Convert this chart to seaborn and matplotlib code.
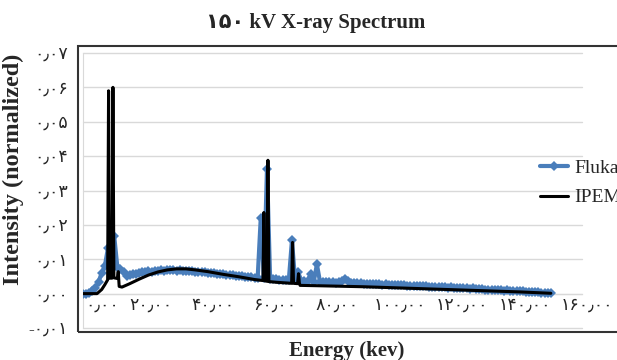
import matplotlib
matplotlib.use("Agg")
import matplotlib.pyplot as plt
import seaborn as sns
import numpy as np
from matplotlib.patches import Rectangle

# ---------------- data ----------------
fluka_energy = list(range(0, 151))
fluka_intensity = [
    0.0000, 0.0000, 0.0002, 0.0007, 0.0017, 0.0035, 0.0060, 0.0080, 0.0132, 0.0082,   # 0-9
    0.0168, 0.0078, 0.0072, 0.0064, 0.0052, 0.0054, 0.0056, 0.0058, 0.0059, 0.0062,   # 10-19
    0.0062, 0.0065, 0.0064, 0.0066, 0.0066, 0.0068, 0.0067, 0.0068, 0.0068, 0.0069,   # 20-29
    0.0067, 0.0068, 0.0066, 0.0067, 0.0065, 0.0066, 0.0064, 0.0064, 0.0062, 0.0062,   # 30-39
    0.0060, 0.0060, 0.0059, 0.0058, 0.0057, 0.0056, 0.0055, 0.0054, 0.0053, 0.0052,   # 40-49
    0.0051, 0.0050, 0.0049, 0.0048, 0.0047, 0.0046, 0.0045, 0.0220, 0.0045, 0.0364,   # 50-59
    0.0043, 0.0042, 0.0042, 0.0041, 0.0041, 0.0040, 0.0040, 0.0155, 0.0039, 0.0062,   # 60-69
    0.0037, 0.0036, 0.0036, 0.0058, 0.0035, 0.0085, 0.0034, 0.0034, 0.0033, 0.0033,   # 70-79
    0.0033, 0.0032, 0.0033, 0.0036, 0.0044, 0.0036, 0.0031, 0.0031, 0.0030, 0.0031,   # 80-89
    0.0029, 0.0029, 0.0028, 0.0029, 0.0027, 0.0028, 0.0026, 0.0027, 0.0026, 0.0025,   # 90-99
    0.0025, 0.0025, 0.0024, 0.0024, 0.0023, 0.0023, 0.0022, 0.0023, 0.0021, 0.0022,   # 100-109
    0.0021, 0.0020, 0.0020, 0.0019, 0.0020, 0.0018, 0.0019, 0.0017, 0.0018, 0.0017,   # 110-119
    0.0016, 0.0016, 0.0015, 0.0016, 0.0014, 0.0015, 0.0013, 0.0014, 0.0013, 0.0012,   # 120-129
    0.0012, 0.0011, 0.0011, 0.0010, 0.0011, 0.0009, 0.0010, 0.0009, 0.0008, 0.0008,   # 130-139
    0.0007, 0.0007, 0.0006, 0.0006, 0.0005, 0.0005, 0.0004, 0.0003, 0.0003, 0.0002,   # 140-149
    0.0001,                                                                           # 150
]

ipem_energy = [0, 4.5, 6, 7, 7.9, 8.2, 8.5, 9.3, 9.6, 9.9, 11.0, 11.3, 11.6, 12.5,
               15, 18, 21, 24, 27, 30, 33, 36, 40, 45, 50, 55, 57.7, 58.0, 58.3,
               59.0, 59.3, 59.6, 62, 66.9, 67.2, 67.5, 68.8, 69.1, 69.4, 69.6,
               75, 80, 90, 100, 110, 120, 130, 140, 150]
ipem_intensity = [0, 0, 0.0012, 0.0026, 0.0040, 0.0590, 0.0045, 0.0045, 0.0600, 0.0046,
                  0.0044, 0.0064, 0.0021, 0.0019, 0.0029, 0.0042, 0.0054, 0.0063,
                  0.0069, 0.0072, 0.0072, 0.0069, 0.0064, 0.0056, 0.0049, 0.0041,
                  0.0038, 0.0236, 0.0037, 0.0036, 0.0388, 0.0035, 0.0033, 0.0030,
                  0.0149, 0.0030, 0.0029, 0.0058, 0.0029, 0.0024, 0.0023, 0.0022,
                  0.0020, 0.0017, 0.0014, 0.0011, 0.0008, 0.0005, 0.0001]

x_ticks = [0, 20, 40, 60, 80, 100, 120, 140, 160]
x_tick_labels = ["۰٫۰۰", "۲۰٫۰۰", "۴۰٫۰۰", "۶۰٫۰۰", "۸۰٫۰۰",
                 "۱۰۰٫۰۰", "۱۲۰٫۰۰", "۱۴۰٫۰۰", "۱۶۰٫۰۰"]
y_ticks = [-0.01, 0.0, 0.01, 0.02, 0.03, 0.04, 0.05, 0.06, 0.07]
y_tick_labels = ["-۰٫۰۱", "۰٫۰۰", "۰٫۰۱", "۰٫۰۲", "۰٫۰۳",
                 "۰٫۰۴", "۰٫۰۵", "۰٫۰۶", "۰٫۰۷"]

title_text = "۱۵۰ kV X-ray Spectrum"
x_label = "Energy (kev)"
y_label = "Intensity (normalized)"
series_names = ["Fluka", "IPEM"]

# ---------------- styling ----------------
sns.set_style("white")
plt.rcParams["font.family"] = ["Liberation Serif", "DejaVu Sans"]

W, H = 617, 360
fig = plt.figure(figsize=(W / 100, H / 100), dpi=100)
ax = fig.add_axes([83 / W, (H - 328) / H, (582 - 83) / W, (328 - 53) / H])

blue = "#4a7ebb"
sns.lineplot(x=fluka_energy, y=fluka_intensity, ax=ax, color=blue, linewidth=3.0,
             marker="D", markersize=5, markeredgewidth=0, label=series_names[0],
             zorder=3)
sns.lineplot(x=ipem_energy, y=ipem_intensity, ax=ax, color="black", linewidth=2.2,
             label=series_names[1], zorder=4)

ax.set_xlim(0, 160)
ax.set_ylim(-0.01, 0.07)
ax.set_xticks(x_ticks)
ax.set_xticklabels([])
ax.set_yticks(y_ticks)
ax.set_yticklabels(y_tick_labels, fontsize=12.5)
ax.tick_params(axis="x", length=0)
ax.tick_params(axis="y", length=0, pad=11)
ax.set_xlabel("")
ax.set_ylabel("")

# x tick labels sit just below the zero line, nudged right as in the original
for i, (xv, txt) in enumerate(zip(x_ticks, x_tick_labels)):
    shift = 19 if i == 0 else 5
    ax.annotate(txt, xy=(xv, 0), xycoords="data", xytext=(shift, -4),
                textcoords="offset pixels", ha="center", va="top",
                fontsize=12.5, annotation_clip=False)

ax.grid(axis="y", color="#d9d9d9", linewidth=1)
ax.grid(axis="x", visible=False)
for gl in ax.yaxis.get_gridlines():
    gl.set_clip_on(False)
ax.spines["top"].set_visible(False)
ax.spines["right"].set_visible(False)
ax.spines["left"].set_color("#d9d9d9")
ax.spines["bottom"].set_color("#d9d9d9")
ax.spines["bottom"].set_position(("data", 0))

leg = ax.legend(loc="center left", bbox_to_anchor=(540 / W, 1 - 183 / H),
                bbox_transform=fig.transFigure, frameon=False, fontsize=14,
                handlelength=1.45, handletextpad=0.3, labelspacing=0.6,
                borderpad=0, borderaxespad=0)

fig.text(316 / W, 1 - 23 / H, title_text, ha="center", va="center",
         fontsize=15, fontweight="bold")
fig.text(347 / W, 1 - 351 / H, x_label, ha="center", va="center",
         fontsize=15, fontweight="bold")
fig.text(13 / W, 1 - 169 / H, y_label, ha="center", va="center", rotation=90,
         fontsize=17.5, fontweight="bold")

fig.add_artist(Rectangle((78 / W, (H - 332) / H), (720 - 78) / W, (332 - 46) / H,
                         transform=fig.transFigure, fill=False,
                         edgecolor="#333333", linewidth=1.5, clip_on=False))

fig.savefig("out.png", dpi=100)
